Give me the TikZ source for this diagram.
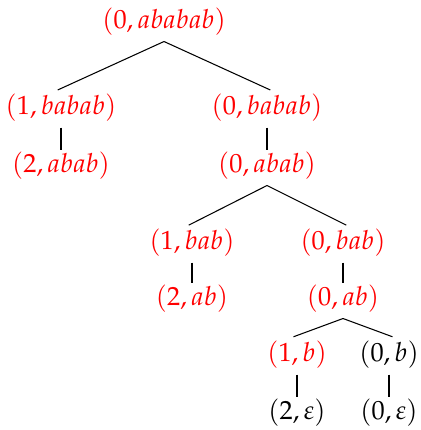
\documentclass[tikz,border=0pt]{standalone}
\usepackage{mathpazo}
\usepackage{tikz}

\begin{document}
\begin{tikzpicture}[x=0.38pt,y=-0.38pt,
      font=\normalsize,
      st/.style={inner sep=2pt,text=red},
      nd/.style={inner sep=2pt,text=black},
      tr/.style={draw=black,line width=0.4pt,shorten >=-1.4pt}]
    \useasboundingbox (0,0) rectangle (420,430);
    \node[st] (n0) at (164,22) {$(0,ababab)$};
    \node[st] (n1) at (61,108) {$(1,babab)$};
    \node[st] (n2) at (267,108) {$(0,babab)$};
    \node[st] (n3) at (61,166) {$(2,abab)$};
    \node[st] (n4) at (267,166) {$(0,abab)$};
    \node[st] (n5) at (192,243) {$(1,bab)$};
    \node[st] (n6) at (343,243) {$(0,bab)$};
    \node[st] (n7) at (192,299) {$(2,ab)$};
    \node[st] (n8) at (343,299) {$(0,ab)$};
    \node[st] (n9) at (297,355) {$(1,b)$};
    \node[nd] (n10) at (389,355) {$(0,b)$};
    \node[nd] (n11) at (297,413) {$(2,\varepsilon)$};
    \node[nd] (n12) at (389,413) {$(0,\varepsilon)$};
    \draw[tr] (n0.south) -- (n1.north);
    \draw[tr] (n0.south) -- (n2.north);
    \draw[tr] (n1.south) -- (n3.north);
    \draw[tr] (n2.south) -- (n4.north);
    \draw[tr] (n4.south) -- (n5.north);
    \draw[tr] (n4.south) -- (n6.north);
    \draw[tr] (n5.south) -- (n7.north);
    \draw[tr] (n6.south) -- (n8.north);
    \draw[tr] (n8.south) -- (n9.north);
    \draw[tr] (n8.south) -- (n10.north);
    \draw[tr] (n9.south) -- (n11.north);
    \draw[tr] (n10.south) -- (n12.north);
  \end{tikzpicture}
\end{document}
